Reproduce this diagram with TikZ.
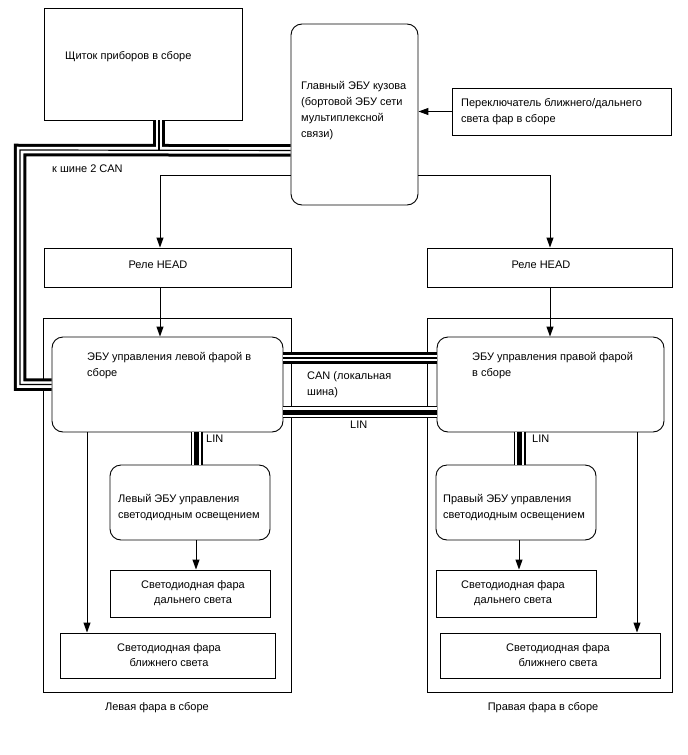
\documentclass[tikz,border=0pt]{standalone}
\usepackage{fontspec}
\setmainfont{Liberation Sans}
\usetikzlibrary{arrows.meta,fit}
\begin{document}
\begin{tikzpicture}[x=1pt,y=-1pt,
  box/.style={draw,line width=0.9pt,inner sep=0pt},
  rbox/.style={box,rounded corners=11pt},
  abox/.style={draw,line width=0.9pt,inner sep=0pt},
  txt/.style={inner sep=0pt,align=left,font=\fontsize{11}{16}\selectfont},
  ctxt/.style={inner sep=0pt,align=center,font=\fontsize{11}{14.5}\selectfont},
  arr/.style={line width=1pt,-{Triangle[length=10pt,width=7pt]}},
  canA/.style={line width=12.5pt,black},
  canB/.style={line width=6.5pt,white},
  canC/.style={line width=1.2pt,black},
  linA/.style={line width=12pt,black},
  linB/.style={line width=9.6pt,white},
  linC/.style={line width=5pt,black}]
\useasboundingbox (0,0) rectangle (688,755);
\fill[white] (0,0) rectangle (688,755);

% assembly frames
\node[abox,fit={(43,318) (291,692)}] (asmL) {};
\node[abox,fit={(427,318) (672,692)}] (asmR) {};

% boxes
\node[box,fit={(44,8) (242,120)}] (ic) {};
\node[rbox,fit={(291,24) (418,205)}] (bcm) {};
\node[box,fit={(452,88) (671,135)}] (sw) {};
\node[box,fit={(44,248) (291,287)}] (relL) {};
\node[box,fit={(427,248) (672,287)}] (relR) {};
\node[rbox,fill=white,fit={(52,337) (283,432)}] (ecuL) {};
\node[rbox,fill=white,fit={(437,337) (664,432)}] (ecuR) {};
\node[rbox,fit={(110,465) (270,540)}] (ledL) {};
\node[rbox,fit={(436,465) (596,540)}] (ledR) {};
\node[box,fit={(110,570) (270,617)}] (hbL) {};
\node[box,fit={(436,570) (596,617)}] (hbR) {};
\node[box,fit={(60,633) (275,678)}] (lbL) {};
\node[box,fit={(440,633) (660,678)}] (lbR) {};

% texts
\node[txt,anchor=north west] (t-ic) at (65,51) {Щиток приборов в сборе};
\node[txt,anchor=north west] (t-bcm) at (301,81) {Главный ЭБУ кузова\\(бортовой ЭБУ сети\\мультиплексной\\связи)};
\node[txt,anchor=north west] (t-sw) at (461,98) {Переключатель ближнего/дальнего\\света фар в сборе};
\node[txt,anchor=north west] (t-can2) at (52,165) {к шине 2 CAN};
\node[txt] (t-relL) at (158,265) {Реле HEAD};
\node[txt] (t-relR) at (541,265) {Реле HEAD};
\node[txt,anchor=north west] (t-ecuL) at (87,352) {ЭБУ управления левой фарой в\\сборе};
\node[txt,anchor=north west] (t-ecuR) at (472,352) {ЭБУ управления правой фарой\\в сборе};
\node[txt,anchor=north west] (t-canl) at (307,371) {CAN (локальная\\шина)};
\node[txt,anchor=north west] (t-lin) at (350,421) {LIN};
\node[txt,anchor=north west] (t-linL) at (206,435) {LIN};
\node[txt,anchor=north west] (t-linR) at (532,435) {LIN};
\node[txt,anchor=north west] (t-ledL) at (118,494) {Левый ЭБУ управления\\светодиодным освещением};
\node[txt,anchor=north west] (t-ledR) at (443,494) {Правый ЭБУ управления\\светодиодным освещением};
\node[ctxt] (t-hbL) at (193,593) {Светодиодная фара\\дальнего света};
\node[ctxt] (t-hbR) at (513,593) {Светодиодная фара\\дальнего света};
\node[ctxt] (t-lbL) at (169,655) {Светодиодная фара\\ближнего света};
\node[ctxt] (t-lbR) at (558,655) {Светодиодная фара\\ближнего света};
\node[ctxt] (t-asmL) at (157,708) {Левая фара в сборе};
\node[ctxt] (t-asmR) at (543,708) {Правая фара в сборе};

% arrows
\draw[arr] (sw.west) -- (sw.west -| bcm.east);
\draw[arr] ([yshift=30pt]bcm.south west) -| ([xshift=-7.5pt]relL.north);
\draw[arr] ([yshift=30pt]bcm.south east) -| ([xshift=0.5pt]relR.north);
\draw[arr] ([xshift=-7.5pt]relL.south) -- ([xshift=-7.5pt]relL.south |- ecuL.north);
\draw[arr] ([xshift=0.5pt]relR.south) -- ([xshift=0.5pt]relR.south |- ecuR.north);
\draw[arr] ([xshift=-80.5pt]ecuL.south) -- ([xshift=-80.5pt]ecuL.south |- lbL.north);
\draw[arr] ([xshift=86.5pt]ecuR.south) -- ([xshift=86.5pt]ecuR.south |- lbR.north);
\draw[arr] ([xshift=6pt]ledL.south) -- ([xshift=6pt]ledL.south |- hbL.north);
\draw[arr] ([xshift=3pt]ledR.south) -- ([xshift=3pt]ledR.south |- hbR.north);

% CAN buses
\coordinate (j1) at (20,150);
\foreach \s in {canA,canB,canC}{
  \draw[\s] ([xshift=16pt]ic.south) -- ([xshift=16pt]ic.south |- j1);
  \draw[\s] ([yshift=55pt]bcm.south west) -- (j1) -- (j1 |- ecuL.west) -- (ecuL.west);
  \draw[\s] ([yshift=26.5pt]ecuL.east) -- ([yshift=26.5pt]ecuL.east -| ecuR.west);
}
% LIN buses
\foreach \s in {linA,linB,linC}{
  \draw[\s] ([yshift=-27.5pt]ecuL.east) -- ([yshift=-27.5pt]ecuL.east -| ecuR.west);
  \draw[\s] ([xshift=29pt]ecuL.south) -- ([xshift=29pt]ecuL.south |- ledL.north);
  \draw[\s] ([xshift=-31pt]ecuR.south) -- ([xshift=-31pt]ecuR.south |- ledR.north);
}
\end{tikzpicture}
\end{document}
